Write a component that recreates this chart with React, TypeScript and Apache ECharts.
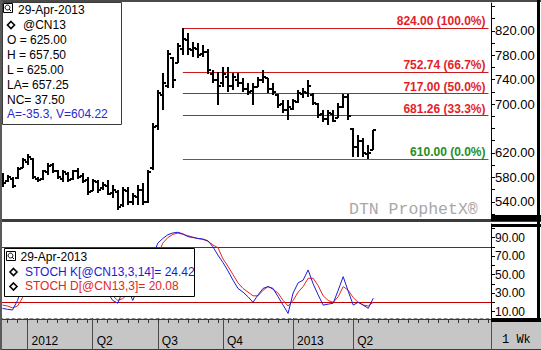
import React, { useEffect, useRef } from "react";
import * as echarts from "echarts";

// ---------- data ----------
const weekStart = "2011-11-28";
const weekCount = 98;

const opens = [
  580, 574, 578, 579, 596, 606, 610, 578, 577, 588,
  600, 590, 578, 586, 578, 590, 582, 576, 558, 572,
  562, 566, 554, 556, 534, 558, 540, 548, 560, 540,
  596, 664, 715, 730, 775, 768, 790, 805, 788, 790,
  782, 785, 750, 740, 734, 745, 730, 740, 735, 725,
  722, 728, 740, 742, 725, 715, 700, 690, 692, 704,
  716, 718, 715, 700, 684, 676, 684, 678, 696, 712,
  660, 630, 640, 618, 625,
];
const highs = [
  587, 584, 581, 597, 611, 619, 611, 581, 592, 603,
  603, 592, 592, 589, 592, 595, 587, 581, 578, 576,
  573, 576, 567, 559, 565, 565, 554, 567, 570, 592,
  669, 723, 751, 788, 777, 800, 824, 816, 802, 800,
  797, 791, 756, 753, 761, 761, 751, 751, 743, 734,
  734, 744, 756, 742, 734, 717, 706, 706, 709, 723,
  726, 739, 718, 701, 690, 690, 690, 701, 717, 717,
  661, 650, 645, 633, 657.5,
];
const lows = [
  565, 573, 562, 578, 595, 600, 578, 573, 576, 584,
  587, 578, 573, 573, 576, 578, 570, 551, 557, 554,
  559, 551, 546, 527, 532, 535, 535, 535, 535, 538,
  592, 657, 690, 726, 726, 767, 780, 780, 777, 775,
  777, 750, 734, 699, 728, 720, 723, 728, 720, 715,
  699, 728, 734, 718, 715, 693, 685, 674, 690, 701,
  710, 712, 698, 677, 670, 666, 670, 677, 693, 674,
  613, 613, 613, 610, 625,
];
const closes = [
  570, 580, 566, 594, 608, 614, 580, 576, 590, 598,
  590, 580, 588, 576, 590, 580, 574, 556, 574, 560,
  568, 553, 560, 532, 560, 540, 550, 560, 540, 588,
  662, 718, 735, 782, 740, 795, 806, 790, 792, 780,
  786, 755, 740, 730, 750, 730, 744, 735, 725, 720,
  728, 740, 745, 725, 720, 698, 690, 695, 705, 718,
  720, 730, 702, 682, 676, 686, 672, 695, 712, 680,
  630, 640, 620, 619.75, 657.25,
];
const stochK = [
  13.5, 12.4, 11.7, 22, 38, 55, 50, 40, 50, 62,
  60, 48, 48, 46, 50, 52, 40, 28, 35, 32,
  33, 30, 22, 19, 32, 35, 22, 35, 32, 48,
  70, 84, 89, 93, 95, 95.7, 94, 91, 90, 89,
  88.4, 86.5, 80, 71, 63, 54, 44, 35, 31, 26,
  20, 28, 35, 37, 35, 26, 17, 8, 30, 41,
  44, 55, 40, 28, 17, 18, 19, 33, 47.7, 32,
  17, 20, 17, 13.5, 24.42,
];
const stochD = [
  17, 16, 14, 16, 25, 38, 48, 48, 47, 51,
  57, 57, 52, 47, 48, 49, 47, 40, 34, 32,
  33, 32, 27, 22, 24, 29, 30, 31, 30, 38,
  51, 72, 84, 90, 93.5, 94.8, 93.5, 92, 90.5, 89,
  88, 86, 82, 79, 67, 59, 50, 41, 35, 31,
  27, 27, 33, 37, 34, 30, 22, 16, 22, 31,
  37, 46, 46, 38, 27, 22, 20, 26, 37, 33,
  25, 20, 17, 16, 20.08,
];

const fibLevels = [824.0, 752.74, 717.0, 681.26, 610.0];
const fibPercents = ["100.0%", "66.7%", "50.0%", "33.3%", "0.0%"];
const fibFromIndex = 36;

const priceLabels = [540, 580, 620, 700, 740, 780, 820];
const priceTicks = [520, 540, 560, 580, 600, 620, 640, 660, 680, 700, 720, 740, 760, 780, 800, 820, 840, 860];
const stochLabels = [10, 30, 50, 70, 90];
const stochTicks = [10, 20, 30, 40, 50, 60, 70, 80, 90, 100];
const stochBands = [80, 20];

const quarterStarts = ["2012-01-02", "2012-04-02", "2012-07-02", "2012-10-01", "2013-01-07", "2013-04-01"];
const quarterLabels = ["2012", "Q2", "Q3", "Q4", "2013", "Q2"];

const dateLabel = "29-Apr-2013";
const symbolName = "@CN13";
const extraInfo = "A=-35.3, V=604.22";

// ---------- helpers ----------
function buildWeeks(): string[] {
  const out: string[] = [];
  const t0 = Date.parse(weekStart + "T00:00:00Z");
  for (let i = 0; i < weekCount; i++) {
    out.push(new Date(t0 + i * 7 * 86400000).toISOString().slice(0, 10));
  }
  return out;
}

const SANS = '"Liberation Sans", Arial, Helvetica, sans-serif';
const MONO = '"Liberation Mono", "Courier New", monospace';

function txt(x: number, y: number, text: string, fill: string, font: string, z = 21): any {
  return {
    type: "text",
    x,
    y,
    z,
    silent: true,
    style: { text, fill, font, align: "left", verticalAlign: "middle" },
  };
}
function diamond(cx: number, cy: number, z = 21): any {
  return {
    type: "polygon",
    z,
    silent: true,
    shape: { points: [[cx, cy - 3.5], [cx + 3.5, cy], [cx, cy + 3.5], [cx - 3.5, cy]] },
    style: { fill: "#fff", stroke: "#000", lineWidth: 1.6 },
  };
}
function icon(x: number, y: number, z = 21): any[] {
  return [
    { type: "rect", z, silent: true, shape: { x: x + 0.5, y: y + 0.5, width: 9, height: 9 }, style: { fill: "#fff", stroke: "#000", lineWidth: 1 } },
    { type: "circle", z, silent: true, shape: { cx: x + 4.5, cy: y + 4.5, r: 2.4 }, style: { fill: "none", stroke: "#000", lineWidth: 1 } },
    { type: "line", z, silent: true, shape: { x1: x + 6, y1: y + 6, x2: x + 8, y2: y + 8 }, style: { stroke: "#000", lineWidth: 1 } },
  ];
}

export default function App() {
  const ref = useRef<HTMLDivElement>(null);

  useEffect(() => {
    if (!ref.current) return;
    const chart = echarts.init(ref.current, undefined, { renderer: "svg" });
    const weeks = buildWeeks();
    const last = closes.length - 1;
    const quarterIdx = quarterStarts.map((d) => weeks.indexOf(d));
    const qLabel = (v: string) => {
      const k = quarterStarts.indexOf(v);
      return k >= 0 ? quarterLabels[k] : "";
    };

    const ohlc = opens.map((o, i) => [i, o, highs[i], lows[i], closes[i]]);

    const fibData: any[] = fibLevels.map((lv, k) => {
      const green = k === fibLevels.length - 1;
      const lineColor = green ? "#1e8a1e" : "#cc1a1a";
      const textColor = green ? "#248f24" : "#e41e28";
      const common = {
        lineStyle: { color: lineColor, width: 1, type: "solid" },
        label: {
          show: true,
          position: "insideEndTop",
          formatter: `${lv.toFixed(2)} (${fibPercents[k]})`,
          color: textColor,
          fontSize: 12,
          fontWeight: "bold",
          fontFamily: SANS,
          distance: [3, 1],
        },
      };
      return [
        { coord: [fibFromIndex, lv], ...common },
        { coord: [weekCount - 1, lv], ...common },
      ];
    });
    fibData.push({
      yAxis: closes[last],
      lineStyle: { width: 0, opacity: 0 },
      label: {
        show: true,
        position: "end",
        formatter: closes[last].toFixed(2),
        backgroundColor: "#000",
        color: "#fff",
        fontSize: 13,
        fontFamily: SANS,
        lineHeight: 13,
        padding: [0, 1, 0, 1],
        distance: 1,
      },
    });

    const option: any = {
      animation: false,
      backgroundColor: "#ffffff",
      grid: [
        { left: 0, top: 3, width: 491, height: 215, outerBoundsMode: "none" },
        { left: 0, top: 224, width: 491, height: 94, outerBoundsMode: "none" },
      ],
      xAxis: [
        { type: "category", gridIndex: 0, data: weeks, boundaryGap: true, show: false },
        {
          type: "category",
          gridIndex: 1,
          data: weeks,
          boundaryGap: true,
          position: "bottom",
          z: 3,
          axisLine: { show: true, onZero: false, lineStyle: { color: "#8c8c8c", width: 1, type: [3, 3] } },
          axisTick: {
            show: true,
            alignWithLabel: true,
            interval: (i: number) => quarterIdx.includes(i),
            length: 32,
            lineStyle: { color: "#4a4a4a", width: 1 },
          },
          axisLabel: {
            show: true,
            interval: (i: number) => quarterIdx.includes(i),
            formatter: (v: string) => qLabel(v),
            align: "left",
            margin: 17,
            padding: [0, 0, 0, 4],
            color: "#000",
            fontSize: 12,
            fontFamily: SANS,
          },
          splitLine: { show: false },
        },
        {
          type: "category",
          gridIndex: 1,
          data: weeks,
          boundaryGap: true,
          position: "bottom",
          offset: 1,
          z: 3,
          axisLine: { show: false },
          axisTick: {
            show: true,
            alignWithLabel: true,
            interval: (i: number) => i % 2 === 1,
            length: 4,
            lineStyle: { color: "#333", width: 1 },
          },
          axisLabel: { show: false },
          splitLine: { show: false },
        },
      ],
      yAxis: [
        {
          type: "value",
          gridIndex: 0,
          position: "right",
          min: 513.5,
          max: 865.5,
          z: 3,
          axisLine: { show: true, lineStyle: { color: "#000", width: 1 } },
          axisTick: { show: true, customValues: priceTicks, length: 4, lineStyle: { color: "#000" } },
          axisLabel: {
            show: true,
            customValues: priceLabels,
            formatter: (v: number) => v.toFixed(2),
            color: "#000",
            fontSize: 13,
            fontFamily: SANS,
            margin: 4,
          },
          splitLine: { show: false },
        },
        {
          type: "value",
          gridIndex: 1,
          position: "right",
          min: 3.03,
          max: 104.65,
          z: 3,
          axisLine: { show: true, lineStyle: { color: "#000", width: 1 } },
          axisTick: { show: true, customValues: stochTicks, length: 4, lineStyle: { color: "#000" } },
          axisLabel: {
            show: true,
            customValues: stochLabels,
            formatter: (v: number) => v.toFixed(2),
            color: "#000",
            fontSize: 12,
            fontFamily: SANS,
            margin: 4,
          },
          splitLine: { show: false },
        },
      ],
      series: [
        {
          type: "custom",
          name: "CN13",
          xAxisIndex: 0,
          yAxisIndex: 0,
          z: 5,
          clip: true,
          encode: { x: 0, y: [1, 2, 3, 4] },
          data: ohlc,
          renderItem: (params: any, api: any) => {
            const i = api.value(0);
            const x = Math.round(api.coord([i, api.value(1)])[0]);
            const yo = Math.round(api.coord([i, api.value(1)])[1]);
            const yh = Math.round(api.coord([i, api.value(2)])[1]);
            const yl = Math.round(api.coord([i, api.value(3)])[1]);
            const yc = Math.round(api.coord([i, api.value(4)])[1]);
            const st = { stroke: "#000", lineWidth: 2 };
            return {
              type: "group",
              children: [
                { type: "line", shape: { x1: x, y1: yh, x2: x, y2: yl }, style: st },
                { type: "line", shape: { x1: x - 3, y1: yo, x2: x, y2: yo }, style: st },
                { type: "line", shape: { x1: x, y1: yc, x2: x + 3, y2: yc }, style: st },
              ],
            };
          },
          markLine: { silent: true, symbol: ["none", "none"], animation: false, data: fibData },
        },
        {
          type: "line",
          name: "STOCH D",
          xAxisIndex: 1,
          yAxisIndex: 1,
          z: 5,
          data: stochD,
          symbol: "none",
          lineStyle: { color: "#e02626", width: 1 },
          itemStyle: { color: "#e02626" },
          markLine: {
            silent: true,
            symbol: ["none", "none"],
            animation: false,
            data: [
              {
                yAxis: stochD[last],
                lineStyle: { width: 0, opacity: 0 },
                label: {
                  show: true,
                  position: "end",
                  formatter: stochD[last].toFixed(2),
                  backgroundColor: "#e01010",
                  color: "#fff",
                  fontSize: 12,
                  fontFamily: SANS,
                  lineHeight: 13,
                  padding: [0, 12, 0, 4],
                  distance: 0,
                },
              },
            ],
          },
        },
        {
          type: "line",
          name: "STOCH K",
          xAxisIndex: 1,
          yAxisIndex: 1,
          z: 6,
          data: stochK,
          symbol: "none",
          lineStyle: { color: "#1c1cd2", width: 1 },
          itemStyle: { color: "#1c1cd2" },
          markLine: {
            silent: true,
            symbol: ["none", "none"],
            animation: false,
            data: [
              ...stochBands.map((b) => ({
                yAxis: b,
                lineStyle: { color: "#c40000", width: 1, type: "solid" },
                label: { show: false },
              })),
              {
                yAxis: stochK[last],
                lineStyle: { width: 0, opacity: 0 },
                label: {
                  show: true,
                  position: "end",
                  formatter: stochK[last].toFixed(2),
                  backgroundColor: "#1414ee",
                  color: "#fff",
                  fontSize: 12,
                  fontFamily: SANS,
                  lineHeight: 13,
                  padding: [0, 12, 0, 4],
                  distance: 0,
                },
              },
            ],
          },
        },
      ],
      graphic: {
        elements: [
          // time band background
          { type: "rect", z: 1, silent: true, shape: { x: 0, y: 319, width: 541, height: 31 }, style: { fill: "#c6c6c6" } },
          { type: "line", z: 1, silent: true, shape: { x1: 0, y1: 319.5, x2: 541, y2: 319.5 }, style: { stroke: "#3a3a3a", lineWidth: 1 } },
          { type: "line", z: 1, silent: true, shape: { x1: 0, y1: 349.5, x2: 541, y2: 349.5 }, style: { stroke: "#3a3a3a", lineWidth: 1 } },
          { type: "line", z: 4, silent: true, shape: { x1: 491.5, y1: 319, x2: 491.5, y2: 350 }, style: { stroke: "#505050", lineWidth: 1 } },
          txt(502, 339.5, "1 Wk", "#000", "12px " + MONO, 4),
          // panel separator
          { type: "rect", z: 25, silent: true, shape: { x: 0, y: 219, width: 541, height: 3 }, style: { fill: "#3c3c3c" } },
          { type: "rect", z: 25, silent: true, shape: { x: 491, y: 215, width: 50, height: 6 }, style: { fill: "#000" } },
          { type: "rect", z: 25, silent: true, shape: { x: 491, y: 224, width: 50, height: 3 }, style: { fill: "#000" } },
          { type: "rect", z: 25, silent: true, shape: { x: 491, y: 318, width: 50, height: 4 }, style: { fill: "#000" } },
          // frame
          { type: "rect", z: 25, silent: true, shape: { x: 0, y: 0, width: 541, height: 2 }, style: { fill: "#4a4a4a" } },
          { type: "rect", z: 25, silent: true, shape: { x: 0, y: 0, width: 2, height: 350 }, style: { fill: "#5a5a5a" } },
          { type: "rect", z: 25, silent: true, shape: { x: 537, y: 0, width: 3, height: 319 }, style: { fill: "#000" } },
          // watermark
          txt(349, 209, "DTN ProphetX\u00AE", "#a8a8a8", "16.5px " + MONO, 2),
          // info box
          { type: "rect", z: 20, silent: true, shape: { x: 2.5, y: 2.5, width: 119, height: 122 }, style: { fill: "#fff", stroke: "#3a3a3a", lineWidth: 1 } },
          ...icon(3, 3),
          txt(18, 9.5, dateLabel, "#000", "12px " + SANS),
          diamond(11, 25),
          txt(23, 25, symbolName, "#000", "12px " + SANS),
          txt(7, 40, `O = ${opens[last].toFixed(2)}`, "#000", "12px " + SANS),
          txt(7, 55, `H = ${highs[last].toFixed(2)}`, "#000", "12px " + SANS),
          txt(7, 70, `L = ${lows[last].toFixed(2)}`, "#000", "12px " + SANS),
          txt(7, 85, `LA= ${closes[last].toFixed(2)}`, "#000", "12px " + SANS),
          txt(7, 99.5, `NC= ${(closes[last] - closes[last - 1]).toFixed(2)}`, "#000", "12px " + SANS),
          txt(7, 114, extraInfo, "#2a2ad0", "12px " + SANS),
          // stoch legend box
          { type: "rect", z: 20, silent: true, shape: { x: 4.5, y: 248.5, width: 190, height: 48 }, style: { fill: "#fff", stroke: "#000", lineWidth: 1 } },
          ...icon(6, 251),
          txt(20.5, 256.5, dateLabel, "#000", "12px " + SANS),
          diamond(13.5, 272),
          txt(25, 271.5, `STOCH K[@CN13,3,14]= ${stochK[last].toFixed(2)}`, "#1c1cd2", "12px " + SANS),
          diamond(13.5, 286.5),
          txt(25, 286, `STOCH D[@CN13,3]= ${stochD[last].toFixed(2)}`, "#e02626", "12px " + SANS),
        ],
      },
    };

    chart.setOption(option);
    return () => {
      chart.dispose();
    };
  }, []);

  return (
    <div
      ref={ref}
      style={{ position: "absolute", left: 0, top: 0, width: 541, height: 350, background: "#fff" }}
    />
  );
}
